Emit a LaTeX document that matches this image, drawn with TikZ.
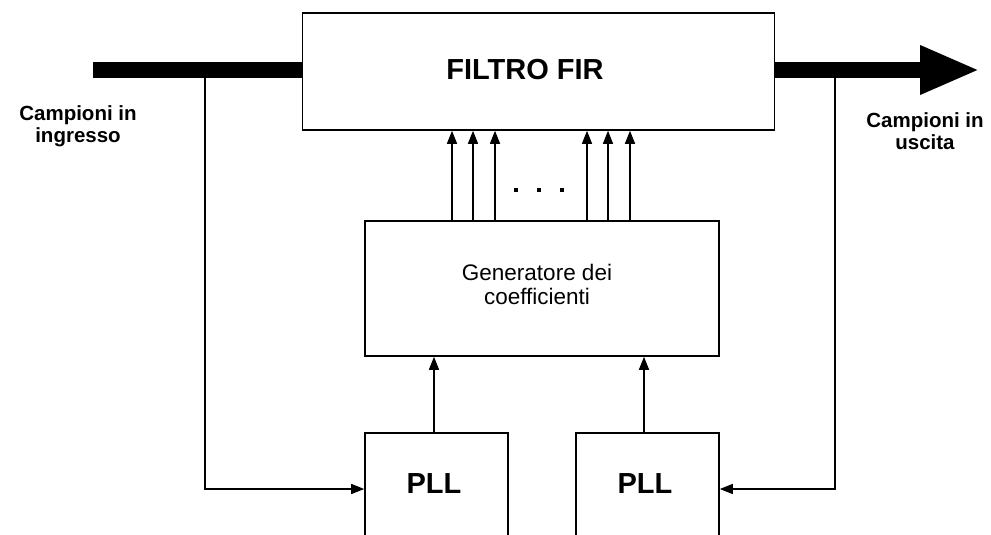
\documentclass[tikz,border=0pt]{standalone}
\usepackage{fontspec}
\setmainfont{Liberation Sans}
\usetikzlibrary{arrows.meta}
\tikzset{
  boxnode/.style={draw, line width=1.6pt, inner sep=0pt, anchor=center},
  conn/.style={line width=1.5pt, -{Triangle[length=13pt,width=10pt]}},
  bigtxt/.style={font=\fontsize{29}{32}\selectfont\bfseries, inner sep=0pt},
  gentxt/.style={font=\fontsize{22.5}{24}\selectfont, align=center, inner sep=0pt},
  sidetxt/.style={font=\fontsize{20.5}{22}\selectfont\bfseries, align=center, inner sep=0pt},
  dotmark/.style={fill=black, minimum size=4.5pt, inner sep=0pt}
}
\begin{document}
\begin{tikzpicture}[x=1pt,y=-1pt]
\clip (0,0) rectangle (991,535);
\fill[white] (0,0) rectangle (991,535);
% boxes
\node[boxnode, minimum width=472pt, minimum height=117pt] (fir) at (538.5,71.5) {};
\node[bigtxt] (firlabel) at (525,70) {FILTRO FIR};
\node[boxnode, minimum width=354pt, minimum height=135pt] (gen) at (542,288.5) {};
\node[gentxt] (genlabel) at (537,284) {Generatore dei\\coefficienti};
\node[boxnode, minimum width=143pt, minimum height=112pt] (pll1) at (436.5,489) {};
\node[bigtxt] (pll1label) at (434,484) {PLL};
\node[boxnode, minimum width=143pt, minimum height=112pt] (pll2) at (647.5,489) {};
\node[bigtxt] (pll2label) at (645,484) {PLL};
% thick input/output
\coordinate (inL) at (93,70);
\coordinate (outR) at (980,70);
\draw[line width=16pt] (inL) -- (inL -| fir.west);
\draw[line width=16pt, -{Triangle[length=60pt,width=45pt]}] (outR -| fir.east) -- (outR);
% feedback paths
\coordinate (tapL) at (205,70);
\coordinate (tapR) at (835,70);
\draw[conn] (tapL) |- (pll1.west);
\draw[conn] (tapR) |- (pll2.east);
% PLL to generator
\draw[conn] (pll1.north -| 434,0) -- (gen.south -| 434,0);
\draw[conn] (pll2.north -| 644,0) -- (gen.south -| 644,0);
% generator to FIR
\foreach \xx in {452,473,495,587,608,630}{
  \draw[conn] (gen.north -| \xx,0) -- (fir.south -| \xx,0);
}
% dots
\node[dotmark] (d1) at (516,190) {};
\node[dotmark] (d2) at (539,190) {};
\node[dotmark] (d3) at (562,190) {};
% side labels
\node[sidetxt] (inlabel) at (78,126) {Campioni in\\ingresso};
\node[sidetxt] (outlabel) at (925,131) {Campioni in\\uscita};
\end{tikzpicture}
\end{document}
